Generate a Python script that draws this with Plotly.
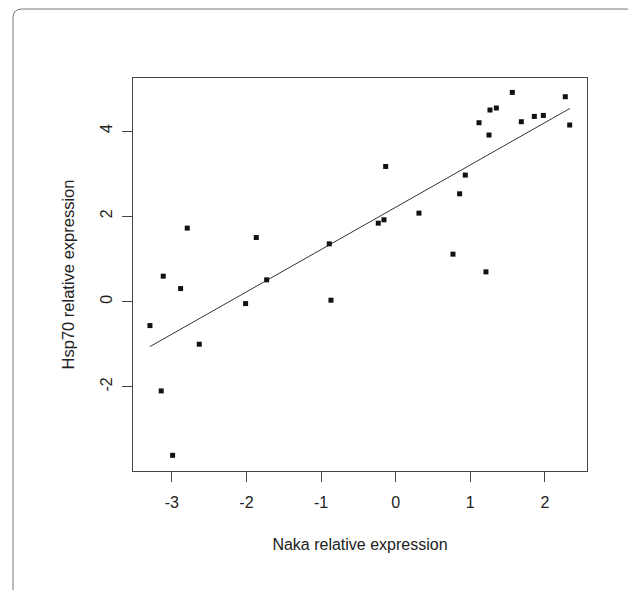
import plotly.graph_objects as go

naka = [-3.293, -3.115, -3.142, -2.989, -2.882, -2.793, -2.632, -2.011, -1.868, -1.729,
        -0.890, -0.867, -0.233, -0.157, -0.134, 0.312, 0.768, 0.857, 0.933, 1.117,
        1.210, 1.251, 1.264, 1.349, 1.563, 1.684, 1.858, 1.979, 2.273, 2.332]
hsp70 = [-0.563, 0.596, -2.096, -3.606, 0.305, 1.723, -1.000, -0.047, 1.502, 0.509,
         1.354, 0.032, 1.840, 1.918, 3.169, 2.075, 1.112, 2.528, 2.967, 4.195,
         0.697, 3.906, 4.493, 4.540, 4.906, 4.218, 4.343, 4.366, 4.805, 4.141]
fit_x = [-3.293, 2.336]
fit_y = [-1.056, 4.531]
x_ticks = [-3, -2, -1, 0, 1, 2]
x_ticklabels = ["-3", "-2", "-1", "0", "1", "2"]
y_ticks = [-2, 0, 2, 4]
y_ticklabels = ["-2", "0", "2", "4"]
x_title = "Naka relative expression"
y_title = "Hsp70 relative expression"

OFF = 8  # page body margin
W, H = 636 - OFF, 590 - OFF
L, R, T, B = 133 - OFF, 587 - OFF, 78 - OFF, 471 - OFF
pw, ph = R - L, B - T

def px(x):
    return (x - L) / pw

def py(y):
    return (B - y) / ph

fig = go.Figure()
fig.add_trace(go.Scatter(x=fit_x, y=fit_y, mode="lines",
                         line=dict(color="#333333", width=1), hoverinfo="skip"))
fig.add_trace(go.Scatter(x=naka, y=hsp70, mode="markers",
                         marker=dict(symbol="square", size=5, color="#111111",
                                     line=dict(width=0))))

FAMILY = "Liberation Sans, Arial, sans-serif"
font = dict(family=FAMILY, size=16, color="#222222")

# rounded outer border
x0, x1, y0, y1, r = px(13 - OFF), px(635 - OFF), py(9 - OFF), py(600), 9
rx, ry = r / pw, r / ph
path = (f"M {x0},{y1} L {x0},{y0 - ry} Q {x0},{y0} {x0 + rx},{y0} "
        f"L {x1 - rx},{y0} Q {x1},{y0} {x1},{y0 - ry} L {x1},{y1}")
fig.add_shape(type="path", path=path, xref="paper", yref="paper",
              line=dict(color="#777777", width=1))

fig.update_layout(
    width=W, height=H,
    margin=dict(l=L, r=W - R, t=T, b=H - B),
    paper_bgcolor="white", plot_bgcolor="white",
    showlegend=False, font=font,
    xaxis=dict(range=[-3.52, 2.564], tickvals=x_ticks, ticktext=x_ticklabels,
               ticks="outside", ticklen=10,
               tickcolor="#444444", tickwidth=1, showline=True, linecolor="#444444",
               linewidth=1.3, mirror=True, showgrid=False, zeroline=False,
               ticklabelstandoff=7,
               title=dict(text=x_title, standoff=28,
                          font=dict(family=FAMILY, size=16, color="#222222"))),
    yaxis=dict(range=[-3.974, 5.244], tickvals=y_ticks, ticktext=y_ticklabels,
               ticks="outside", ticklen=10,
               tickcolor="#444444", tickwidth=1, showline=True, linecolor="#444444",
               linewidth=1.3, mirror=True, showgrid=False, zeroline=False,
               tickangle=-90, ticklabelstandoff=3,
               title=dict(text=y_title, standoff=19,
                          font=dict(family=FAMILY, size=16.5, color="#222222"))),
)

fig.write_html("out.html")
